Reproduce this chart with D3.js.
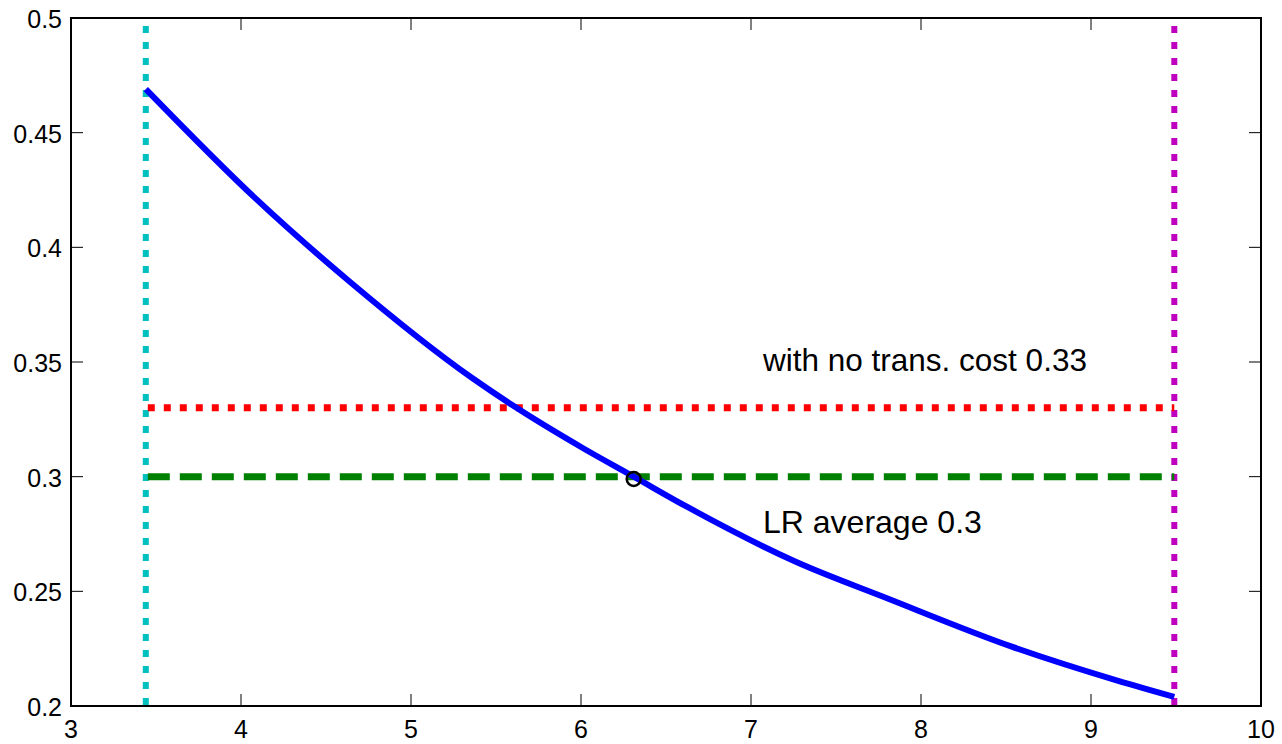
<!DOCTYPE html>
<html><head><meta charset="utf-8">
<script src="https://cdn.jsdelivr.net/npm/d3@7"></script>
<style>
body{margin:0;background:#fff;}
text{font-family:Arial,"Liberation Sans",Helvetica,sans-serif;}
</style></head>
<body><svg id="c" width="1282" height="744"></svg>
<script>
const curveX = [3.44, 4.09, 4.64, 5.36, 5.60, 6.01, 6.31, 6.62, 7.26, 7.80, 8.53, 9.16, 9.49];
const curveY = [0.469, 0.421, 0.385, 0.343, 0.331, 0.3125, 0.300, 0.287, 0.263, 0.247, 0.226, 0.211, 0.204];
const lowerBound = 3.44;
const upperBound = 9.49;
const noCostLevel = 0.33;
const lrAverage = 0.30;
const crossPoint = [6.31, 0.299];
const xTicks = [3,4,5,6,7,8,9,10];
const yTicks = [0.2,0.25,0.3,0.35,0.4,0.45,0.5];
const labels = ["with no trans. cost 0.33", "LR average 0.3"];

const svg = d3.select("#c");
const L=71, R=1261, T=18, B=706;
const x = d3.scaleLinear().domain([3,10]).range([L,R]);
const y = d3.scaleLinear().domain([0.2,0.5]).range([B,T]);

function txt(px, py, s, size, anchor){
  return svg.append("text").attr("x",px).attr("y",py)
    .attr("font-size",size).attr("text-anchor",anchor||"start").attr("fill","#000").text(s);
}

// vertical bounds
svg.append("line").attr("x1",x(lowerBound)).attr("x2",x(lowerBound)).attr("y1",y(0.5)+8).attr("y2",y(0.2))
  .attr("stroke","#00bfbf").attr("stroke-width",6).attr("stroke-dasharray","7,9");
svg.append("line").attr("x1",x(upperBound)).attr("x2",x(upperBound)).attr("y1",y(0.5)+8).attr("y2",y(0.2))
  .attr("stroke","#bf00bf").attr("stroke-width",6).attr("stroke-dasharray","7,9");

// horizontal levels
svg.append("line").attr("x1",x(lowerBound)+2).attr("x2",x(upperBound)).attr("y1",y(noCostLevel)).attr("y2",y(noCostLevel))
  .attr("stroke","#ff0000").attr("stroke-width",7).attr("stroke-dasharray","7,9");
svg.append("line").attr("x1",x(lowerBound)+2).attr("x2",x(upperBound)).attr("y1",y(lrAverage)).attr("y2",y(lrAverage))
  .attr("stroke","#008000").attr("stroke-width",7).attr("stroke-dasharray","22,10");

// curve
const pts = curveX.map((d,i)=>[d,curveY[i]]);
svg.append("path").datum(pts)
  .attr("d", d3.line().x(d=>x(d[0])).y(d=>y(d[1])).curve(d3.curveMonotoneX))
  .attr("fill","none").attr("stroke","#0000ff").attr("stroke-width",6);

svg.append("circle").attr("cx",x(crossPoint[0])).attr("cy",y(crossPoint[1])).attr("r",7)
  .attr("fill","none").attr("stroke","#000").attr("stroke-width",2.5);

// annotations
txt(763, 371, labels[0], 31.5);
txt(763, 533, labels[1], 32);

// axes box
const g = svg.append("g");
xTicks.forEach(t=>{
  g.append("line").attr("x1",x(t)).attr("x2",x(t)).attr("y1",B).attr("y2",B-12).attr("stroke","#000").attr("stroke-width",1);
  g.append("line").attr("x1",x(t)).attr("x2",x(t)).attr("y1",T).attr("y2",T+12).attr("stroke","#000").attr("stroke-width",1);
  txt(x(t), 738, d3.format("d")(t), 25, "middle");
});
yTicks.forEach(t=>{
  g.append("line").attr("x1",L).attr("x2",L+12).attr("y1",y(t)).attr("y2",y(t)).attr("stroke","#000").attr("stroke-width",1);
  g.append("line").attr("x1",R).attr("x2",R-12).attr("y1",y(t)).attr("y2",y(t)).attr("stroke","#000").attr("stroke-width",1);
  txt(62, y(t)+10, String(+t.toFixed(2)), 25, "end");
});
g.append("rect").attr("x",L).attr("y",T).attr("width",R-L).attr("height",B-T)
  .attr("fill","none").attr("stroke","#000").attr("stroke-width",2);
</script></body></html>
